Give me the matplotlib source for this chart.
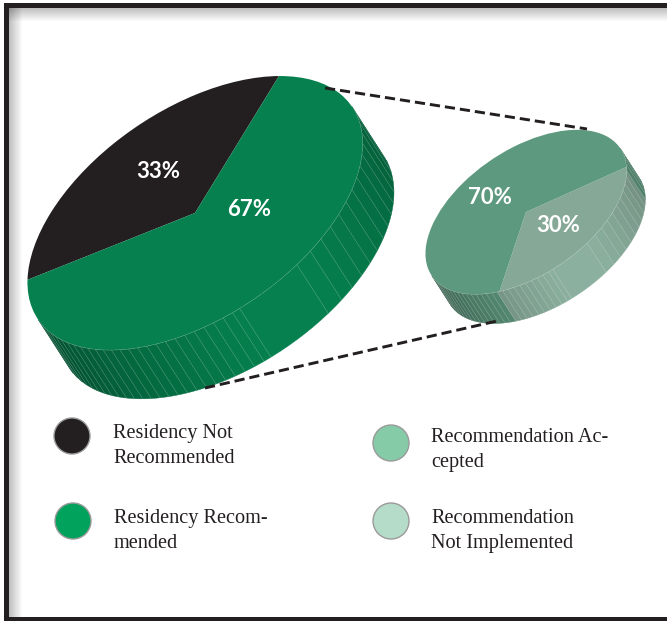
#!/usr/bin/env python3

import matplotlib
matplotlib.rcParams.update(
    {
        "backend" : "Agg",
        "figure.dpi" : 100,
    }
)
import matplotlib.patches
import matplotlib.pyplot
import matplotlib.transforms
import numpy

# Shares of the main pie and of the pulled-out slice ...
mainLabels = ["Residency Not Recommended", "Residency Recommended"]
mainShares = [33, 67]
subLabels = ["Recommendation Not Implemented", "Recommendation Accepted"]
subShares = [30, 70]

# Legend wording, broken the way it is set on the page ...
legendText = [
    "Residency Not\nRecommended",
    "Residency Recom-\nmended",
    "Recommendation Ac-\ncepted",
    "Recommendation\nNot Implemented",
]

INK = "#231f20"

# Tilt of the disc and the direction the wall is extruded along ...
PHI = numpy.radians(34.1)
MAJOR = 189.6                                                                   # [px]
MINOR = 104.3                                                                   # [px]
DEPTH = 59.0                                                                    # [px]


def rim(cx, cy, scale, theta):
    # Point on the edge of a disc for the angle around it ...
    t = numpy.radians(theta)
    u = scale * MAJOR * numpy.cos(t)
    v = scale * MINOR * numpy.sin(t)
    x = cx + u * numpy.cos(PHI) - v * numpy.sin(PHI)
    y = cy - u * numpy.sin(PHI) - v * numpy.cos(PHI)
    return x, y


def shade(color, factor):
    rgb = numpy.array(matplotlib.colors.to_rgb(color)) * factor
    return tuple(numpy.clip(rgb, 0.0, 1.0))


def wallFactor(theta, leftEnd, rightEnd, peak):
    # The wall is brightest where it faces the viewer ...
    if theta < 265.0:
        return leftEnd + (peak - leftEnd) * (theta - 180.0) / 85.0
    if theta < 287.0:
        return peak
    return peak + (rightEnd - peak) * (theta - 287.0) / 73.0


def drawDisc(ax, cx, cy, scale, shares, colors, start, leftEnd, rightEnd, peak):
    # Slice limits, running around the disc from the first share ...
    edges = start + numpy.cumsum([0.0] + [share * 3.6 for share in shares])

    # Wall facets, fine at the two ends and one wide facet in the middle ...
    breaks = numpy.concatenate(
        [
            numpy.arange(180.0, 265.0, 3.3),
            [265.0, 287.0],
            numpy.arange(293.0, 360.0, 5.2),
            [360.0],
        ]
    )
    dx = scale * DEPTH * numpy.sin(PHI) * 0.95
    dy = scale * DEPTH * numpy.cos(PHI)

    for t1, t2 in zip(breaks[:-1], breaks[1:]):
        mid = 0.5 * (t1 + t2)
        color = colors[-1]
        for i, col in enumerate(colors):
            if edges[i] <= mid % 360.0 < edges[i + 1] or edges[i] <= mid % 360.0 + 360.0 < edges[i + 1]:
                color = col
        tt = numpy.linspace(t1, t2, 8)
        x, y = rim(cx, cy, scale, tt)
        px = numpy.concatenate([x, x[::-1] + dx])
        py = numpy.concatenate([y, y[::-1] + dy])
        face = shade(color, wallFactor(mid, leftEnd, rightEnd, peak))
        ax.fill(px, py, facecolor = face, edgecolor = face, linewidth = 0.3, zorder = 2)

        # Thin light seam between two facets ...
        if 180.0 < t1:
            ax.plot(
                [x[0], x[0] + dx],
                [y[0], y[0] + dy],
                color = "white",
                alpha = 0.22,
                linewidth = 0.4,
                zorder = 3,
            )

    # Light line along the front of the top face ...
    tt = numpy.linspace(180.0, 360.0, 200)
    x, y = rim(cx, cy, scale, tt)
    ax.plot(x, y, color = "white", alpha = 0.4, linewidth = 0.5, zorder = 3)

    # Top face ...
    a = scale * MAJOR
    b = scale * MINOR
    disc = matplotlib.transforms.Affine2D.from_values(
        a * numpy.cos(PHI),
        -a * numpy.sin(PHI),
        -b * numpy.sin(PHI),
        -b * numpy.cos(PHI),
        cx,
        cy,
    )
    for i, col in enumerate(colors):
        ax.add_patch(
            matplotlib.patches.Wedge(
                (0.0, 0.0),
                1.0,
                edges[i],
                edges[i + 1],
                facecolor = col,
                edgecolor = "none",
                transform = disc + ax.transData,
                zorder = 4,
            )
        )


# Create figure with axes measured in pixels ...
fg = matplotlib.pyplot.figure(figsize = (6.67, 6.21))
ax = fg.add_axes([0.0, 0.0, 1.0, 1.0])
ax.set_xlim(0, 667)
ax.set_ylim(621, 0)
ax.axis("off")

# Soft shadow inside the frame ...
for i in range(13):
    alpha = 0.25 * (1.0 - i / 13.0)
    ax.add_patch(matplotlib.patches.Rectangle((9 + i, 8), 1, 609, facecolor = "black", alpha = alpha, edgecolor = "none", zorder = 1))
    ax.add_patch(matplotlib.patches.Rectangle((9, 8 + i), 658, 1, facecolor = "black", alpha = alpha, edgecolor = "none", zorder = 1))

# Frame, which runs off the right of the page ...
ax.add_patch(matplotlib.patches.Rectangle((4, 3), 663, 5, facecolor = INK, edgecolor = "none", zorder = 1))
ax.add_patch(matplotlib.patches.Rectangle((4, 3), 5, 618, facecolor = INK, edgecolor = "none", zorder = 1))
ax.add_patch(matplotlib.patches.Rectangle((4, 617), 663, 4, facecolor = INK, edgecolor = "none", zorder = 1))

# Draw the two discs ...
drawDisc(ax, 195.0, 213.0, 1.0, mainShares, [INK, "#05804e"], 39.5, 0.6, 0.72, 1.0)
drawDisc(ax, 526.0, 212.0, 0.6, subShares, ["#85a897", "#5d997e"], 234.3, 0.62, 0.78, 1.05)

# Dashed leaders from the slice to the smaller disc ...
for xs, ys in [([325, 587], [88, 129]), ([205, 497], [388, 321])]:
    ax.plot(xs, ys, color = INK, linewidth = 2.1, linestyle = (0, (3.5, 1.7)), zorder = 6)

# Percentages on the top faces ...
percentAt = [(158, 171), (249, 210), (558, 226), (490, 198)]
for (x, y), value in zip(percentAt, mainShares + subShares):
    ax.text(
        x,
        y,
        f"{value:d}%",
        color = "white",
        family = ["Lato", "DejaVu Sans"],
        fontweight = "bold",
        fontsize = 16,
        ha = "center",
        va = "center",
        zorder = 7,
    )

# Legend ...
legendColors = [INK, "#00a25c", "#85cba8", "#b5dcc9"]
legendDots = [(72, 436), (73, 521), (391, 443), (391, 521)]
legendAt = [(113, 424), (113.5, 509), (431, 428), (431, 509)]
for color, dot, at, text in zip(legendColors, legendDots, legendAt, legendText):
    ax.add_patch(
        matplotlib.patches.Circle(
            dot,
            18,
            facecolor = color,
            edgecolor = "#9a9a9a",
            linewidth = 1.0,
            zorder = 5,
        )
    )
    ax.text(
        at[0],
        at[1],
        text,
        color = INK,
        family = "Liberation Serif",
        fontsize = 14.6,
        linespacing = 1.42,
        ha = "left",
        va = "top",
        zorder = 7,
    )

# Save figure ...
fg.savefig("out.png")
matplotlib.pyplot.close(fg)
